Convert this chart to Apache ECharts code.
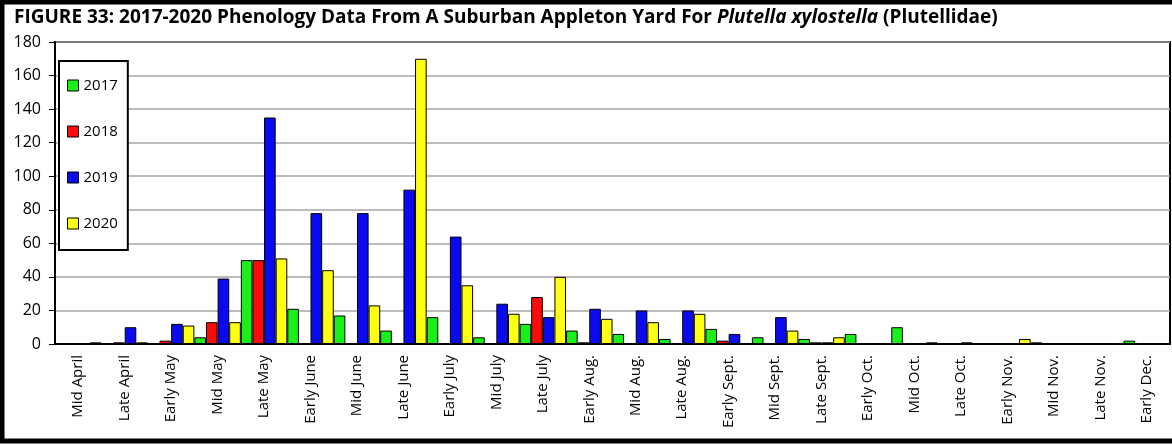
<!DOCTYPE html>
<html>
<head>
<meta charset="utf-8">
<script src="https://cdn.jsdelivr.net/npm/echarts@6/dist/echarts.min.js"></script>
<style>
  html, body { margin: 0; padding: 0; background: #fff; }
  #chart { width: 1172px; height: 445px; }
</style>
</head>
<body>
<div id="chart"></div>
<script>
// categories (two-week-ish periods)
const periods = ['Mid April', 'Late April', 'Early May', 'Mid May', 'Late May', 'Early June',
  'Mid June', 'Late June', 'Early July', 'Mid July', 'Late July', 'Early Aug.',
  'Mid Aug.', 'Late Aug.', 'Early Sept.', 'Mid Sept.', 'Late Sept.', 'Early Oct.',
  'Mid Oct.', 'Late Oct.', 'Early Nov.', 'Mid Nov.', 'Late Nov.', 'Early Dec.']

// counts per year
const y2017 = [0, 0, 0, 4, 50, 21, 17, 8, 16, 4, 12, 8, 6, 3, 9, 4, 3, 6, 10, 0, 0, 1, 0, 2]
const y2018 = [0, 1, 2, 13, 50, 0, 0, 0, 0, 0, 28, 1, 0, 0, 2, 0, 1, 0, 0, 0, 0, 0, 0, 0]
const y2019 = [0, 10, 12, 39, 135, 78, 78, 92, 64, 24, 16, 21, 20, 20, 6, 16, 1, 0, 0, 1, 0, 0, 0, 0]
const y2020 = [1, 1, 11, 13, 51, 44, 23, 170, 35, 18, 40, 15, 13, 18, 0, 8, 4, 0, 1, 0, 3, 0, 0, 0]

const yTicks = { min: 0, max: 180, interval: 20 }

const font = '"Open Sans", Lato, sans-serif'

const bar = (name, data, color) => ({
  name,
  type: 'bar',
  data,
  barGap: '0%',
  barCategoryGap: '0%',
  itemStyle: { color, borderColor: '#000', borderWidth: 1 }
})

const chart = echarts.init(document.getElementById('chart'))
chart.setOption({
  animation: false,
  title: {
    left: 9,
    top: 3,
    text: '{b|FIGURE 33: 2017-2020 Phenology Data From A Suburban Appleton Yard For }{i|Plutella xylostella}{b| (Plutellidae)}',
    textStyle: {
      rich: {
        b: { fontFamily: font, fontSize: 19, fontWeight: 'bold', color: '#000' },
        i: { fontFamily: font, fontSize: 19, fontWeight: 'bold', fontStyle: 'italic', color: '#000' }
      }
    }
  },
  legend: {
    orient: 'vertical',
    left: 59,
    top: 61,
    padding: [17, 10, 19, 8],
    itemGap: 31,
    itemWidth: 11,
    itemHeight: 11,
    icon: 'rect',
    backgroundColor: '#fff',
    borderColor: '#000',
    borderWidth: 2,
    itemStyle: { borderColor: '#000', borderWidth: 1 },
    textStyle: { fontFamily: font, fontSize: 15, color: '#000' },
    data: ['2017', '2018', '2019', '2020']
  },
  grid: {
    left: 55,
    right: 2,
    top: 42,
    bottom: 101,
    show: true,
    borderColor: '#000',
    borderWidth: 2
  },
  xAxis: [
    {
      type: 'category',
      data: periods,
      axisLine: { lineStyle: { color: '#000', width: 2 } },
      axisTick: { length: 6, lineStyle: { color: '#000', width: 2 } },
      axisLabel: { rotate: 90, interval: 0, margin: 11, fontFamily: font, fontSize: 15, color: '#000' }
    },
    {
      // inner half of the crossing tick marks
      type: 'category',
      data: periods,
      position: 'bottom',
      axisLine: { show: false },
      axisTick: { inside: true, length: 6, lineStyle: { color: '#000', width: 2 } },
      axisLabel: { show: false }
    }
  ],
  yAxis: {
    type: 'value',
    min: yTicks.min,
    max: yTicks.max,
    interval: yTicks.interval,
    axisLine: { show: true, lineStyle: { color: '#000', width: 2 } },
    axisTick: { show: true, length: 6, lineStyle: { color: '#000' } },
    axisLabel: { margin: 14, fontFamily: font, fontSize: 16, color: '#000' },
    splitLine: { lineStyle: { color: '#a6a6a6', width: 1.5 } }
  },
  series: [
    bar('2017', y2017, '#19f019'),
    bar('2018', y2018, '#ff0a0a'),
    bar('2019', y2019, '#0a0af0'),
    bar('2020', y2020, '#ffff14')
  ],
  graphic: [{
    type: 'rect',
    silent: true,
    z: 100,
    shape: { x: 2, y: 2, width: 1190, height: 439 },
    style: { fill: 'none', stroke: '#000', lineWidth: 5 }
  }]
})
</script>
</body>
</html>
